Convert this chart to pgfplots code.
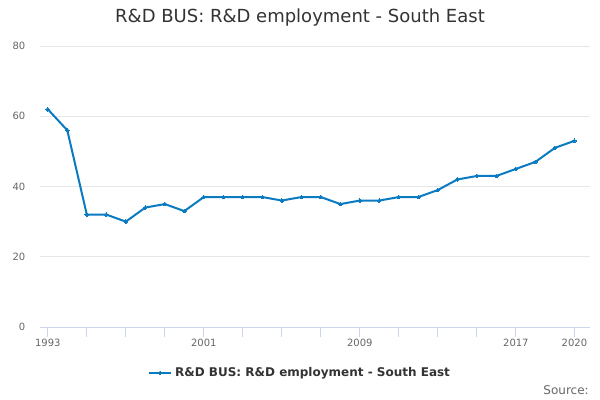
\documentclass[border=0pt]{standalone}
\usepackage{pgfplots}
\pgfplotsset{compat=1.18}
\usepackage{fontspec}
\setmainfont{DejaVu Sans}
\definecolor{lineblue}{HTML}{0B7BC1}
\definecolor{gridgray}{HTML}{E6E6E6}
\definecolor{axisline}{HTML}{CCD6EB}
\definecolor{ticktext}{HTML}{666666}
\definecolor{titletext}{HTML}{333333}
\begin{document}
\begin{tikzpicture}
\path (0pt,0pt) rectangle (450pt,300pt);
\begin{axis}[
  at={(30pt,54.75pt)}, anchor=south west,
  scale only axis, width=412.5pt, height=210.75pt,
  xmin=1992.6, xmax=2020.8, ymin=0, ymax=80,
  axis y line*=left, axis x line*=bottom,
  y axis line style={draw=none},
  x axis line style={draw=axisline, line width=0.75pt},
  ytick={0,20,40,60,80},
  ymajorgrids, grid style={gridgray, line width=0.75pt},
  major y tick style={draw=none},
  xtick={1993,1995,1997,1999,2001,2003,2005,2007,2009,2011,2013,2015,2017,2020},
  xticklabels={1993,,,,2001,,,,2009,,,,2017,2020},
  major x tick style={draw=axisline, line width=0.75pt},
  tick align=outside, major tick length=7.5pt,
  x tick label style={font=\fontsize{7.5}{9}\selectfont, text=ticktext, yshift=2pt},
  y tick label style={font=\fontsize{7.5}{9}\selectfont, text=ticktext},
  /pgf/number format/assume math mode=true,
  /pgf/number format/1000 sep={},
  legend style={at={(0.473,-0.164)}, anchor=center, draw=none, fill=none,
    font=\bfseries\fontsize{9}{11}\selectfont, text=titletext},
  legend cell align=left,
]
\addplot[color=lineblue, line width=1.5pt, mark=*, mark size=1.4pt, mark options={line width=0pt}]
coordinates {
(1993,62)(1994,56)(1995,32)(1996,32)(1997,30)(1998,34)(1999,35)(2000,33)
(2001,37)(2002,37)(2003,37)(2004,37)(2005,36)(2006,37)(2007,37)(2008,35)
(2009,36)(2010,36)(2011,37)(2012,37)(2013,39)(2014,42)(2015,43)(2016,43)
(2017,45)(2018,47)(2019,51)(2020,53)
};
\addlegendentry{R\&D BUS: R\&D employment - South East}
\end{axis}
\node[font=\fontsize{13.5}{16}\selectfont, text=titletext] at (225pt,286.5pt) {R\&D BUS: R\&D employment - South East};
\node[anchor=east, inner sep=0pt, font=\fontsize{9}{11}\selectfont, text=ticktext] at (441.75pt,7.5pt) {Source:};
\end{tikzpicture}
\end{document}
